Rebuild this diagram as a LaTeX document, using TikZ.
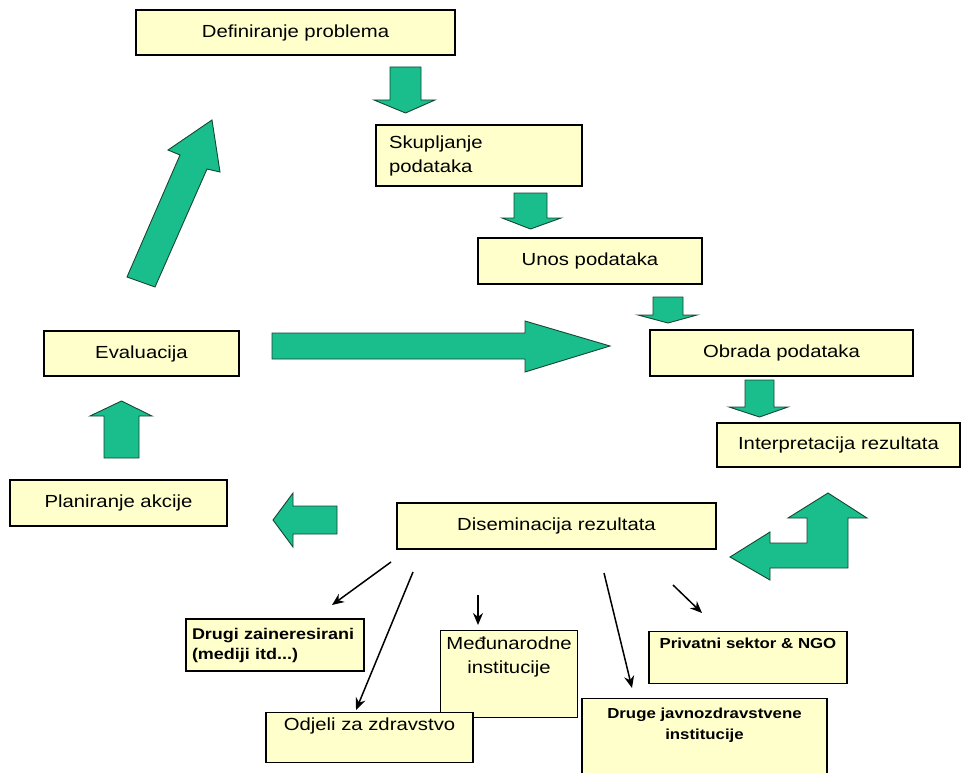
\documentclass[tikz,border=0pt]{standalone}
\usepackage{fontspec}
\setmainfont[FakeStretch=1.16]{Liberation Sans}
\usepackage{tikz}
\usetikzlibrary{arrows.meta,positioning}
\definecolor{boxyellow}{RGB}{255,255,204}
\definecolor{arrowgreen}{RGB}{26,190,140}
\definecolor{arrowedge}{RGB}{20,70,50}
\tikzset{
     box/.style={rectangle, draw=black, line width=1.4pt, fill=boxyellow,
                 inner xsep=6pt, inner ysep=4pt, align=center,
                 font=\fontsize{17.5}{24}\selectfont},
     smallbox/.style={box, font=\fontsize{14.5}{21}\selectfont\bfseries},
     bigarrow/.style={fill=arrowgreen, draw=arrowedge, line width=0.9pt, line join=miter},
     line/.style={draw, line width=1.5pt, -{Stealth[length=12pt,width=10pt]}}
     }

\begin{document}
\begin{tikzpicture}[x=1pt,y=-1pt]
\useasboundingbox (0,0) rectangle (963,773);

% the cycle
\node [box, minimum width=319pt, minimum height=45pt] (defin) at (295.5,32.5) {Definiranje problema};
\node [box, minimum width=206pt, minimum height=61pt, text width=180pt, align=left] (skup) at (479,155.5) {Skupljanje\\podataka};
\node [box, minimum width=224pt, minimum height=46pt] (unos) at (590,261) {Unos podataka};
\node [box, minimum width=263pt, minimum height=46pt] (obrada) at (781.5,353) {Obrada podataka};
\node [box, minimum width=243pt, minimum height=44pt] (interp) at (838.5,445) {Interpretacija rezultata};
\node [box, minimum width=319pt, minimum height=46pt] (disem) at (556.5,526) {Diseminacija rezultata};
\node [box, minimum width=217pt, minimum height=46pt] (plan) at (118.5,503) {Planiranje akcije};
\node [box, minimum width=195pt, minimum height=45pt] (evalu) at (141.5,353.5) {Evaluacija};

% who gets the results
\node [smallbox, font=\fontsize{15.5}{20}\selectfont\bfseries, minimum width=176pt, minimum height=52pt, text width=166pt, align=left] (drugi) at (275,645) {Drugi zaineresirani\\(mediji itd...)};
\node [box, anchor=north, minimum width=132pt, minimum height=79pt, inner ysep=6pt, text depth=38pt] (medju) at (509,630) {Međunarodne\\institucije};
\node [smallbox, anchor=north, minimum width=198pt, minimum height=52pt, text height=12pt, text depth=30pt, inner ysep=5pt] (privat) at (748,631) {Privatni sektor \& NGO};
\node [smallbox, anchor=north, minimum width=245pt, minimum height=73pt, inner ysep=9pt, text depth=26pt] (drugejz) at (704.5,698) {Druge javnozdravstvene\\institucije};
\node [box, anchor=north, minimum width=207pt, minimum height=50pt, text height=13pt, text depth=27pt, inner ysep=5pt] (odjeli) at (369.5,712) {Odjeli za zdravstvo};

% block arrows
\draw[bigarrow] (390,67) -- (421,67) -- (421,100) -- (435,100) -- (405.5,113) -- (374,100) -- (390,100) -- cycle;
\draw[bigarrow] (514,193) -- (547,193) -- (547,218) -- (561,218) -- (530.5,229) -- (502,218) -- (514,218) -- cycle;
\draw[bigarrow] (653,297) -- (683,297) -- (683,315) -- (697,315) -- (668,323) -- (638,315) -- (653,315) -- cycle;
\draw[bigarrow] (745,380) -- (774,380) -- (774,407) -- (788,407) -- (759.5,417) -- (729,407) -- (745,407) -- cycle;
\draw[bigarrow] (272,333) -- (525,333) -- (525,321) -- (610,346) -- (525,372) -- (525,359) -- (272,359) -- cycle;
\draw[bigarrow] (104,458) -- (104,416) -- (90,416) -- (121.5,401) -- (152,416) -- (139,416) -- (139,458) -- cycle;
\draw[bigarrow] (337,506) -- (293,506) -- (293,493) -- (273,520) -- (293,547) -- (293,534) -- (337,534) -- cycle;
\draw[bigarrow] (127,277) -- (180,155) -- (168,150) -- (212,120) -- (220,172) -- (207,169) -- (155,287) -- cycle;
\draw[bigarrow] (828,493) -- (867,518) -- (848,518) -- (848,568) -- (770,568) -- (770,580) -- (730,557)
   -- (770,532) -- (770,543) -- (807,543) -- (807,518) -- (788,518) -- cycle;

%Lines
\coordinate (fromA) at (391,562);  \coordinate (toA) at (332,605);
\coordinate (fromB) at (413,572);  \coordinate (toB) at (356,710);
\coordinate (fromC) at (478,595);  \coordinate (toC) at (478,625);
\coordinate (fromD) at (604,573);  \coordinate (toD) at (632,688);
\coordinate (fromE) at (673,585);  \coordinate (toE) at (702,613);
\draw[line] (fromA) -- (toA);
\draw[line] (fromB) -- (toB);
\draw[line] (fromC) -- (toC);
\draw[line] (fromD) -- (toD);
\draw[line] (fromE) -- (toE);
\end{tikzpicture}
\end{document}
